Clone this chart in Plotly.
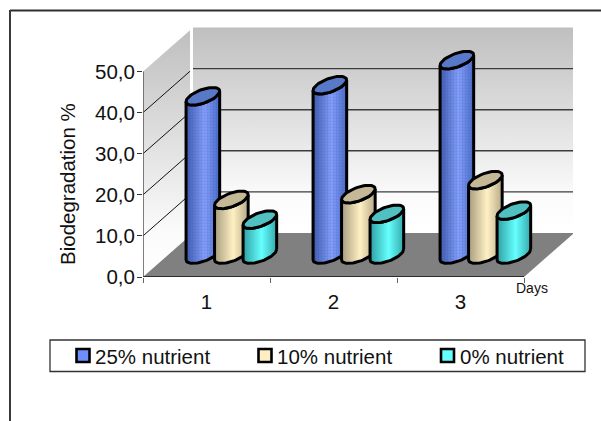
import math
import plotly.graph_objects as go

# Biodegradation percentage per day and nutrient level
days = [1, 2, 3]
series_names = ["25% nutrient", "10% nutrient", "0% nutrient"]
nutrient_25 = [38.5, 41.2, 47.3]
nutrient_10 = [13.3, 14.7, 18.1]
nutrient_0 = [8.5, 9.9, 10.7]
y_ticks = [0, 10, 20, 30, 40, 50]
y_tick_labels = ["0,0", "10,0", "20,0", "30,0", "40,0", "50,0"]

W, H = 601, 421
LEFT, RIGHT, TOP, BOTTOM = 143, 573, 27, 277
PX_X = 127.0                      # pixels per category
PX_Y = 4.11                       # pixels per percentage point
DEPTH_X = 50 / PX_X               # oblique shift of the back plane, x units
DEPTH_Y = 44 / PX_Y               # oblique shift of the back plane, y units
FONT = "Liberation Sans"
INK = "#111111"
TEXT_SIZE = 20.5
OUTLINE = 3


def project(x, v, depth=0.0):
    """Oblique projection of (category, value, depth) onto the axes."""
    return x + depth * DEPTH_X, v + depth * DEPTH_Y


def polygon(points):
    xs, ys = zip(*[project(*p) for p in points])
    return list(xs), list(ys)


def area(xs, ys, **kw):
    return go.Scatter(x=xs, y=ys, mode="lines", fill="toself", line=dict(width=0),
                      hoverinfo="skip", showlegend=False, **kw)


def stroke(xs, ys, color, width):
    return go.Scatter(x=xs, y=ys, mode="lines", line=dict(color=color, width=width),
                      hoverinfo="skip", showlegend=False, cliponaxis=False)


fig = go.Figure()
wall_gradient = dict(type="vertical", colorscale=[[0, "#ffffff"], [0.18, "#fbfbfb"], [1, "#bfbfbf"]])
x0, x1 = 0.5, 3.5
SIDE = 0.94
v_top = y_ticks[-1]

# Back wall, side wall and floor
xs, ys = polygon([(x0, 0, 1), (x1, 0, 1), (x1, v_top, 1), (x0, v_top, 1), (x0, 0, 1)])
fig.add_trace(area(xs, ys, fillgradient=wall_gradient))
xs, ys = polygon([(x0, 0, 0), (x0, 0, SIDE), (x0, v_top, SIDE), (x0, v_top, 0), (x0, 0, 0)])
fig.add_trace(area(xs, ys, fillgradient=wall_gradient))

# Gridlines across the back wall and up the side wall
back_x, back_y, side_x, side_y = [], [], [], []
for t in y_ticks[1:-1]:
    xs, ys = polygon([(x0, t, 1), (x1, t, 1)])
    back_x += xs + [None]
    back_y += ys + [None]
for t in y_ticks[1:-1]:
    xs, ys = polygon([(x0, t, 0), (x0, t, SIDE)])
    side_x += xs + [None]
    side_y += ys + [None]
fig.add_trace(stroke(back_x, back_y, "#3c3c3c", 1.4))
fig.add_trace(stroke(side_x, side_y, "#111111", 1))

xs, ys = polygon([(x0, 0, 0), (x1, 0, 0), (x1, 0, 1), (x0, 0, 1), (x0, 0, 0)])
fig.add_trace(area(xs, ys, fillcolor="#808080"))

# Cylinder footprint and colouring
CYL_W = 27 / PX_X
CYL_DEPTH = 0.4
CYL_MID = 0.51
OFFSET = 28.5 / PX_X
series = [
    (nutrient_25, -OFFSET, ["#3f5cb0", "#86a2ff", "#4a6cca"], "#5878c8", True),
    (nutrient_10, 0.0, ["#a79d7e", "#fff0c4", "#b7aa86"], "#c4b896", False),
    (nutrient_0, OFFSET, ["#2f9fa3", "#66ffff", "#35a9ab"], "#50c0c0", False),
]


def ring(cx, v, start, stop, n=36):
    """Points along the cylinder's elliptical rim between two angles."""
    pts = []
    for i in range(n + 1):
        t = start + (stop - start) * i / n
        pts.append((cx + CYL_W / 2 * math.cos(t) + CYL_DEPTH * DEPTH_X * math.sin(t) / 2,
                    v + CYL_DEPTH * DEPTH_Y * math.sin(t) / 2))
    return pts


# Angle of the silhouette tangent on the receding rim
T0 = math.atan2(CYL_DEPTH * DEPTH_X, CYL_W)

for d_i, day in enumerate(days):
    for values, off, shades, cap, textured in series:
        v = values[d_i]
        cx, base = project(day + off - 0.005, 0, CYL_MID)
        top = base + v
        # Body: front half of the base rim, then the top rim back across
        lower = ring(cx, base, T0, T0 - math.pi)
        upper = ring(cx, top, T0 - math.pi, T0)
        outline = lower + upper + [lower[0]]
        bx, by = zip(*outline)
        fig.add_trace(area(list(bx), list(by), fillgradient=dict(
            type="horizontal",
            colorscale=[[0, shades[0]], [0.55, shades[1]], [1, shades[2]]])))
        if textured:
            fig.add_trace(area(list(bx), list(by), fillcolor="rgba(0,0,0,0)",
                               fillpattern=dict(shape=".", size=3, solidity=0.45,
                                                fgcolor="rgba(40,60,140,0.35)",
                                                bgcolor="rgba(0,0,0,0)")))
        fig.add_trace(stroke(list(bx), list(by), "#000000", OUTLINE))
        # Cap
        rim = ring(cx, top, 0, 2 * math.pi, 60)
        tx, ty = zip(*rim)
        fig.add_trace(go.Scatter(x=list(tx), y=list(ty), mode="lines", fill="toself",
                                 fillcolor=cap, line=dict(color="#000000", width=OUTLINE),
                                 hoverinfo="skip", showlegend=False, cliponaxis=False))

# Front axis lines
fig.add_trace(stroke([x0, x1], [0, 0], "#111111", 1.5))
fig.add_trace(stroke([x0, x0], [0, 50], "#555555", 1.5))


def px_x(p):
    return p / W


def px_y(p):
    return 1 - p / H


def note(text, x, y, size, angle=0, anchor="center"):
    fig.add_annotation(text=text, xref="paper", yref="paper", x=px_x(x), y=px_y(y),
                       showarrow=False, textangle=angle, xanchor=anchor, yanchor="middle",
                       font=dict(family=FONT, size=size, color=INK))


note("Biodegradation %", 67, 184, TEXT_SIZE, angle=-90)
note("Days", 532, 288, 14)

# Legend box with swatches and series labels
shapes = [
    dict(type="line", xref="paper", yref="paper", x0=px_x(10), x1=1, y0=px_y(10.5), y1=px_y(10.5),
         line=dict(color="#2e2e2e", width=2)),
    dict(type="line", xref="paper", yref="paper", x0=px_x(10), x1=px_x(10), y0=px_y(10), y1=0,
         line=dict(color="#3a3a3a", width=2)),
    dict(type="rect", xref="paper", yref="paper", x0=px_x(50), x1=px_x(585), y0=px_y(340), y1=px_y(371.5),
         line=dict(color="#333333", width=1.3), fillcolor="#ffffff"),
]
swatch_x = [76.5, 258.5, 441]
swatch_colors = ["#6f8fff", "#ffefc0", "#66ffff"]
for sx, name, color in zip(swatch_x, series_names, swatch_colors):
    shapes.append(dict(type="rect", xref="paper", yref="paper", x0=px_x(sx), x1=px_x(sx + 13),
                       y0=px_y(349), y1=px_y(362), fillcolor=color,
                       line=dict(color="#000000", width=2.6)))
    note(name, sx + 16.5, 356, TEXT_SIZE, anchor="left")

fig.update_layout(
    width=W, height=H, autosize=False,
    margin=dict(l=0, r=0, t=0, b=0),
    paper_bgcolor="#ffffff", plot_bgcolor="rgba(0,0,0,0)",
    showlegend=False, shapes=shapes,
    font=dict(family=FONT, color=INK),
    xaxis=dict(
        automargin=False,
        domain=[LEFT / W, RIGHT / W],
        range=[x0, x0 + (RIGHT - LEFT) / PX_X],
        tickmode="array", tickvals=days, ticktext=[str(d) for d in days],
        ticks="", showgrid=False, zeroline=False, showline=False,
        ticklabelstandoff=10,
        tickfont=dict(family=FONT, size=TEXT_SIZE, color=INK),
        minor=dict(tickmode="array", tickvals=[0.5, 1.5, 2.5, 3.5], ticks="outside",
                   ticklen=5, tickcolor="#666666", tickwidth=1.2, showgrid=False),
    ),
    yaxis=dict(
        automargin=False,
        domain=[1 - BOTTOM / H, 1 - TOP / H],
        range=[0, (BOTTOM - TOP) / PX_Y],
        tickmode="array", tickvals=y_ticks, ticktext=y_tick_labels,
        ticks="outside", ticklen=5, tickcolor="#333333", tickwidth=1.2,
        showgrid=False, zeroline=False, showline=False,
        ticklabelstandoff=-2,
        tickfont=dict(family=FONT, size=TEXT_SIZE, color=INK),
    ),
)

fig.write_html("out.html")
